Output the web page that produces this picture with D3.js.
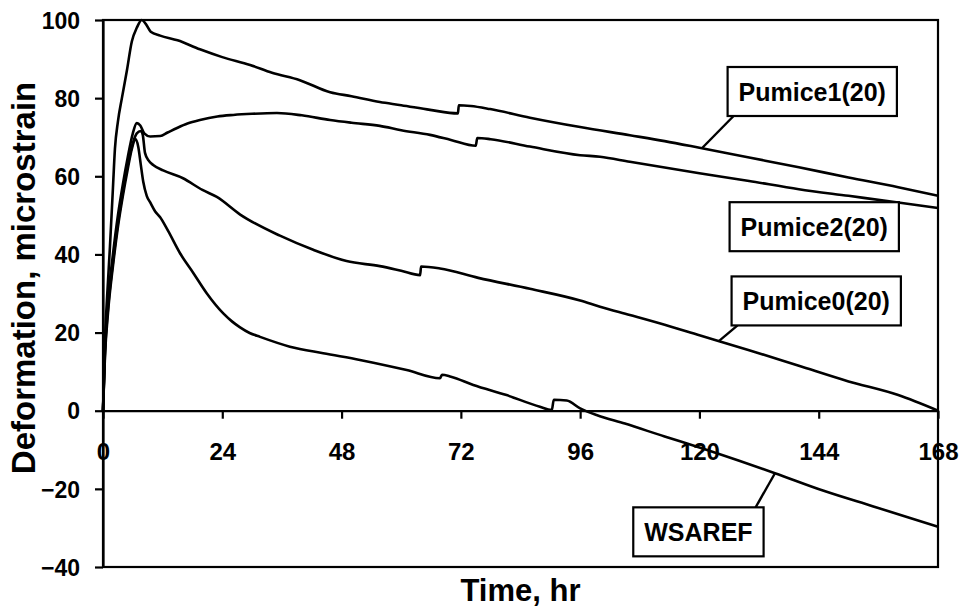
<!DOCTYPE html>
<html>
<head>
<meta charset="utf-8">
<script src="https://cdn.jsdelivr.net/npm/d3@7"></script>
<style>
  html, body { margin: 0; padding: 0; background: #fff; }
  svg { display: block; font-family: "Liberation Sans", Arial, sans-serif; font-weight: bold; }
</style>
</head>
<body>
<svg id="chart" width="961" height="607"></svg>
<script>
// Deformation records, [time (hr), microstrain]
const pumice1 = [[0,0],[0.4,18],[1.0,33],[1.4,42],[2.0,57],[2.4,67],[3.0,74],[3.8,80],[4.8,87],[5.8,94.5],[6.8,98],[7.8,100],[8.6,99],[9.6,97],[11.5,96],[15,94.8],[19.5,92.5],[24,90.5],[29.6,88.5],[34,86.5],[39.6,84.6],[45.7,81.5],[50,80.5],[55.7,79],[60,78.2],[65.8,77],[71.4,76.1],[71.6,78.2],[74,78],[77.9,77.2],[85.9,75],[96,72.6],[106,70.5],[113,69],[120,67.3],[130,64.8],[140,62.3],[150,59.7],[160,57.2],[168,55]];
const pumice2 = [[0,0],[0.4,16],[1.0,28],[2.0,40],[3.0,50],[4.0,58],[5.0,65],[6.0,71],[6.8,73.6],[7.5,73],[8.3,71],[9.5,70.2],[11.5,70.3],[13,71.2],[14.8,72.3],[17,73.5],[19.5,74.4],[23,75.3],[26.2,75.7],[30,76],[35,76.2],[40,75.6],[45.7,74.4],[50,73.7],[55.7,72.9],[60,71.8],[65.8,70.6],[70,69.3],[75,67.8],[75.3,69.8],[78,69.5],[85.9,67.6],[96,65.4],[100,65.0],[106,63.7],[120,60.8],[130,58.8],[140,56.7],[150,55],[160,53.3],[168,51.9]];
const pumice0 = [[0,0],[0.4,15],[1.0,26],[2,38],[3,48],[4,56],[5,63],[6,68.5],[6.8,71],[7.6,71.6],[8.0,70.6],[8.45,66],[9.2,64],[10.1,62.9],[12.1,61.5],[16.1,59.5],[20,56.5],[22.9,54.7],[27.6,50.2],[35.6,44.8],[42.3,41.2],[49,38.3],[55.7,37],[60,35.8],[63.8,34.7],[64.0,36.9],[67.8,36.4],[75.5,34],[85.9,31.2],[96,28.2],[100,26.6],[106,24.5],[113,22],[120,19.3],[130,15.5],[140,11.5],[150,7.5],[160,4],[168,0]];
const wsaref = [[0,0],[0.4,14],[1.0,25],[2,37],[3,47],[4,55],[5,62],[5.8,67],[6.5,69.5],[7.1,67.5],[7.6,63],[8.1,58.6],[8.8,55],[9.5,53.3],[10.5,51],[11.5,49.5],[13.1,46],[15.5,40.3],[18.2,35.2],[20.9,30],[24.2,24.9],[26,22.8],[27.5,21.4],[29.5,19.9],[31.6,18.9],[37.6,16.4],[44.3,14.7],[51.7,13],[54.4,12.3],[61.1,10.4],[67.8,8.3],[68.2,9.2],[70,8.7],[74.5,6.6],[81.2,4.0],[87.9,1.0],[90.3,0.2],[90.7,2.8],[93.3,2.6],[96,0.6],[99.3,-1.1],[105,-3.3],[113,-6.6],[120,-9.4],[128,-12.8],[135.2,-16],[145,-20.5],[155,-24.5],[168,-29.7]];

const seriesNames = ["Pumice1(20)", "Pumice2(20)", "Pumice0(20)", "WSAREF"];
const seriesData = [pumice1, pumice2, pumice0, wsaref];

// Axis ticks
const xTicks = [0, 24, 48, 72, 96, 120, 144, 168];
const yTicks = [-40, -20, 0, 20, 40, 60, 80, 100];

// Callout boxes: centre in data units, time on the curve where the leader lands
const calloutCentreT = [142.7, 143.1, 143.5, 119.8];
const calloutCentreV = [81.7, 47.1, 28.1, -31.0];
const calloutLeaderT = [120.5, null, 123.9, 135.2];

const svg = d3.select("#chart");
const plotLeft = 103, plotRight = 938, plotTop = 20, plotBottom = 567;

const x = d3.scaleLinear().domain([0, 168]).range([plotLeft, plotRight]);
const y = d3.scaleLinear().domain([-40, 100]).range([plotBottom, plotTop]);

// x axis sits on the zero line
const xAxis = svg.append("g")
  .attr("transform", `translate(0,${y(0)})`)
  .call(d3.axisBottom(x).tickValues(xTicks).tickSize(8).tickSizeOuter(0).tickPadding(24));
xAxis.selectAll("text").attr("font-size", 24).attr("font-weight", "bold")
  .attr("font-family", "Liberation Sans, Arial, sans-serif").attr("fill", "#000");

const yAxis = svg.append("g")
  .attr("transform", `translate(${plotLeft},0)`)
  .call(d3.axisLeft(y).tickValues(yTicks).tickSize(8).tickSizeOuter(0).tickPadding(15));
yAxis.selectAll("text").attr("font-size", 23).attr("font-weight", "bold")
  .attr("font-family", "Liberation Sans, Arial, sans-serif").attr("fill", "#000").attr("dy", "0.36em");

svg.selectAll(".domain, .tick line").attr("stroke", "#000").attr("stroke-width", 2.2);

// plot frame
svg.append("rect")
  .attr("x", plotLeft).attr("y", plotTop)
  .attr("width", plotRight - plotLeft).attr("height", plotBottom - plotTop)
  .attr("fill", "none").attr("stroke", "#000").attr("stroke-width", 2.2);

// series curves
const line = d3.line().curve(d3.curveMonotoneX).x(d => x(d[0])).y(d => y(d[1]));
svg.append("g").selectAll("path")
  .data(seriesData)
  .join("path")
  .attr("d", line)
  .attr("fill", "none")
  .attr("stroke", "#000")
  .attr("stroke-width", 2.6)
  .attr("stroke-linejoin", "round");

// value on a series at time t (linear between records)
function valueAt(data, t) {
  for (let i = 1; i < data.length; i++) {
    if (data[i][0] >= t) {
      const a = data[i - 1], b = data[i];
      return a[1] + (b[1] - a[1]) * (t - a[0]) / (b[0] - a[0]);
    }
  }
  return data[data.length - 1][1];
}

// callouts
const fontSize = 25;
const callouts = svg.append("g");
seriesNames.forEach((name, i) => {
  const cx = x(calloutCentreT[i]), cy = y(calloutCentreV[i]);
  const txt = callouts.append("text")
    .attr("x", cx).attr("y", cy)
    .attr("dy", "0.36em")
    .attr("text-anchor", "middle")
    .attr("font-size", fontSize)
    .attr("font-weight", "bold")
    .attr("fill", "#000")
    .text(name);
  const bb = txt.node().getBBox();
  const w = bb.width + 22, h = 49;
  const bx = cx - w / 2, by = cy - h / 2;
  if (calloutLeaderT[i] !== null) {
    const lt = calloutLeaderT[i];
    const px = x(lt), py = y(valueAt(seriesData[i], lt));
    // leader leaves the box at the corner nearest the curve point
    const sx = px < bx ? bx + 6 : bx + w - 8;
    const sy = py > by + h ? by + h : by;
    callouts.insert("line", "text")
      .attr("x1", sx).attr("y1", sy).attr("x2", px).attr("y2", py)
      .attr("stroke", "#000").attr("stroke-width", 2.4);
  }
  callouts.insert("rect", "text")
    .attr("x", bx).attr("y", by).attr("width", w).attr("height", h)
    .attr("fill", "#fff").attr("stroke", "#000").attr("stroke-width", 2.2);
});

// axis titles
svg.append("text")
  .attr("x", (plotLeft + plotRight) / 2).attr("y", 601)
  .attr("text-anchor", "middle")
  .attr("font-size", 31).attr("font-weight", "bold").attr("fill", "#000")
  .text("Time, hr");

svg.append("text")
  .attr("transform", "translate(35,278) rotate(-90)")
  .attr("text-anchor", "middle")
  .attr("font-size", 33).attr("font-weight", "bold").attr("fill", "#000")
  .text("Deformation, microstrain");
</script>
</body>
</html>
